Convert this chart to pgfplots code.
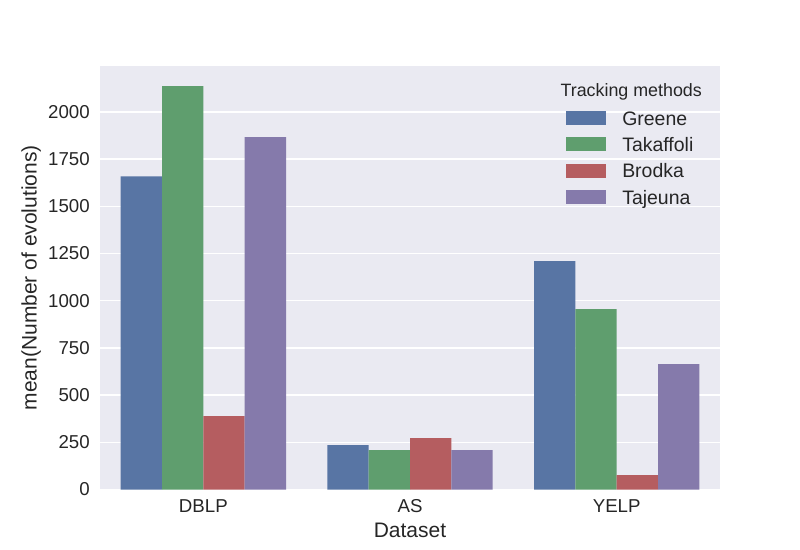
\documentclass[border=0pt]{standalone}
\usepackage{fontspec}
\setmainfont{Liberation Sans}
\usepackage{pgfplots}
\pgfplotsset{compat=1.18}
\definecolor{bgc}{HTML}{EAEAF2}
\definecolor{txt}{HTML}{262626}
\definecolor{cGreene}{HTML}{5875A4}
\definecolor{cTakaffoli}{HTML}{5F9E6E}
\definecolor{cBrodka}{HTML}{B55D60}
\definecolor{cTajeuna}{HTML}{857AAB}
\pgfplotsset{mypatch/.style={legend image code/.code={\fill[##1] (0pt,-3.25pt) rectangle (30pt,7.25pt);}}}
\begin{document}
\begin{tikzpicture}
\useasboundingbox (0,0) rectangle (600pt,412.5pt);
\begin{axis}[
 at={(75pt,45.375pt)}, anchor=south west,
 scale only axis, width=465pt, height=317.625pt,
 xmin=-0.5, xmax=2.5, ymin=0, ymax=2243,
 axis background/.style={fill=bgc},
 axis line style={draw=none},
 major tick length=0pt,
 xtick={0,1,2}, xticklabels={DBLP,AS,YELP},
 ytick={0,250,...,2000},
 ymajorgrids, grid style={white, line width=1.1pt},
 scaled y ticks=false,
 /pgf/number format/1000 sep={},
 /pgf/number format/assume math mode=true,
 tick label style={font=\fontsize{14}{16.8}\selectfont, text=txt},
 yticklabel style={anchor=east, inner sep=0pt, xshift=-7.5pt},
 xticklabel style={anchor=base, inner sep=0pt, yshift=-17.1pt},
 xlabel={Dataset}, ylabel={mean(Number of evolutions)},
 label style={font=\fontsize{15.75}{18}\selectfont, text=txt, inner sep=0pt},
 xlabel style={at={(axis description cs:0.5,-0.1129)}, anchor=base},
 ylabel style={at={(axis description cs:-0.1021,0.5)}, anchor=base},
 legend style={draw=none, fill=none, at={(axis description cs:0.7516,0.8937)}, anchor=north west,
   inner sep=0pt, outer sep=0pt, row sep=5.8pt, column sep=12.2pt,
   font=\fontsize{14.6}{17.5}\selectfont, text=txt,
   nodes={inner sep=0pt, text height=10pt, text depth=3.5pt}},
 legend cell align=left,
]
\addplot[ybar, bar width=0.2, bar shift=0pt, fill=cGreene, draw=none, mypatch] coordinates {(-0.3,1659) (0.7,235) (1.7,1209)};
\addlegendentry{Greene}
\addplot[ybar, bar width=0.2, bar shift=0pt, fill=cTakaffoli, draw=none, mypatch] coordinates {(-0.1,2136) (0.9,208) (1.9,955)};
\addlegendentry{Takaffoli}
\addplot[ybar, bar width=0.2, bar shift=0pt, fill=cBrodka, draw=none, mypatch] coordinates {(0.1,388) (1.1,272) (2.1,76)};
\addlegendentry{Brodka}
\addplot[ybar, bar width=0.2, bar shift=0pt, fill=cTajeuna, draw=none, mypatch] coordinates {(0.3,1866) (1.3,208) (2.3,664)};
\addlegendentry{Tajeuna}
\node[anchor=base, font=\fontsize{13.4}{16}\selectfont, text=txt, inner sep=0pt] at (axis description cs:0.8568,0.9275) {Tracking methods};
\end{axis}
\end{tikzpicture}
\end{document}
